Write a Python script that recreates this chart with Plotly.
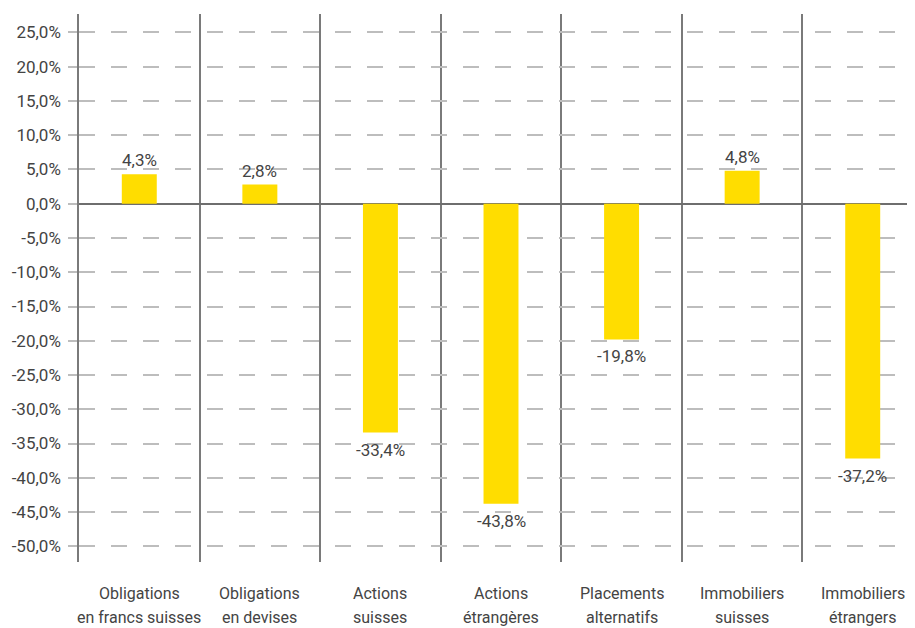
import plotly.graph_objects as go

cat_line1 = ["Obligations", "Obligations", "Actions", "Actions", "Placements", "Immobiliers", "Immobiliers"]
cat_line2 = ["en francs suisses", "en devises", "suisses", "étrangères", "alternatifs", "suisses", "étrangers"]
values = [4.3, 2.8, -33.4, -43.8, -19.8, 4.8, -37.2]
value_labels = ["4,3%", "2,8%", "-33,4%", "-43,8%", "-19,8%", "4,8%", "-37,2%"]
y_tickvals = [25, 20, 15, 10, 5, 0, -5, -10, -15, -20, -25, -30, -35, -40, -45, -50]
y_ticktext = ["25,0%", "20,0%", "15,0%", "10,0%", "5,0%", "0,0%", "-5,0%", "-10,0%",
              "-15,0%", "-20,0%", "-25,0%", "-30,0%", "-35,0%", "-40,0%", "-45,0%", "-50,0%"]

x_pos = list(range(len(values)))
FONT = "Roboto"
TXT = "#444444"
W = 400

fig = go.Figure()
fig.add_trace(go.Bar(
    x=x_pos, y=values, width=0.29,
    marker=dict(color="#FFDD00", line=dict(width=0)),
    hoverinfo="skip",
))

for xi, v, t in zip(x_pos, values, value_labels):
    fig.add_annotation(
        x=xi, y=v, text=t, showarrow=False,
        yanchor="bottom" if v >= 0 else "top",
        yshift=2 if v >= 0 else -5,
        font=dict(family=FONT, size=17, color=TXT, weight=W),
    )

for xi, l1, l2 in zip(x_pos, cat_line1, cat_line2):
    fig.add_annotation(x=xi, y=-0.058, xref="x", yref="paper", text=l1,
                       showarrow=False, yanchor="middle",
                       font=dict(family=FONT, size=16, color=TXT, weight=W))
    fig.add_annotation(x=xi, y=-0.101, xref="x", yref="paper", text=l2,
                       showarrow=False, yanchor="middle",
                       font=dict(family=FONT, size=16, color=TXT, weight=W))

fig.update_layout(
    width=915, height=628,
    margin=dict(l=71, r=0, t=6, b=74),
    paper_bgcolor="white", plot_bgcolor="white",
    showlegend=False,
    font=dict(family=FONT, size=16, color=TXT),
    xaxis=dict(
        range=[-0.5, 6.5],
        tickmode="array", tickvals=x_pos, ticktext=[""] * len(x_pos),
        showgrid=False, zeroline=False, showline=False, ticks="",
        minor=dict(tickmode="array", tickvals=[i - 0.5 for i in range(8)],
                   showgrid=True, gridcolor="#7a7a7a", gridwidth=1.5, ticks=""),
        fixedrange=True,
    ),
    yaxis=dict(
        range=[-52.3, 27.7],
        tickmode="array", tickvals=y_tickvals, ticktext=y_ticktext,
        showgrid=True, gridcolor="#bdbdbd", gridwidth=1.5, griddash="16px,16px",
        zeroline=True, zerolinecolor="#6e6e6e", zerolinewidth=1.5,
        showline=True, linecolor="#7a7a7a", linewidth=1.5,
        ticks="outside", ticklen=9, tickcolor="#bdbdbd", tickwidth=1.5,
        ticklabelstandoff=4,
        tickfont=dict(family=FONT, size=17, color=TXT, weight=W),
        fixedrange=True,
    ),
)

fig.write_html("out.html")
